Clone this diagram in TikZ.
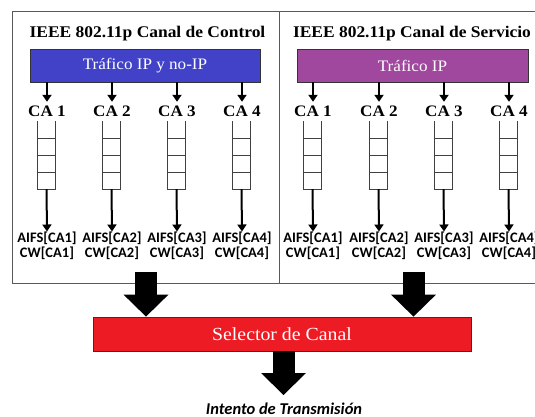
\documentclass[tikz,border=0pt]{standalone}
\usepackage{fontspec}
\setmainfont{Liberation Serif}
\newfontfamily\sansb{Carlito}
\newfontfamily\widerserif[FakeStretch=1.07]{Liberation Serif}
\usetikzlibrary{arrows.meta,calc}
\definecolor{ctrlblue}{RGB}{66,66,200}
\definecolor{servpurple}{RGB}{160,72,158}
\definecolor{selred}{RGB}{237,28,36}
\begin{document}
\begin{tikzpicture}[x=1pt,y=-1pt,
  frame/.style={draw=black!65, line width=0.9pt},
  title/.style={font=\widerserif\fontsize{16.3}{18}\selectfont\bfseries, inner sep=0pt, anchor=base},
  bar/.style={draw=black!80, line width=0.8pt, text=white, inner sep=0pt,
    minimum height=33pt, font=\widerserif\fontsize{16}{18}\selectfont},
  calabel/.style={font=\widerserif\fontsize{16}{18}\selectfont\bfseries, inner sep=0pt,
    text height=14.5pt, text depth=0pt, anchor=base},
  queue/.style={minimum width=18pt, minimum height=68pt, inner sep=0pt},
  feed/.style={-{Triangle[length=7pt,width=9pt]}, line width=2pt},
  param/.style={font=\sansb\bfseries\fontsize{14.5}{15}\selectfont, align=center,
    inner sep=0pt, anchor=north},
  blockarrow/.style={line width=22pt, -{Triangle[length=22pt,width=45pt,line width=0pt]}}
]
\useasboundingbox (0,0) rectangle (535,417);
\begin{scope}
\clip (0,0) rectangle (535,417);
% the two channel frames (the service one runs off the right edge)
\draw[frame] (12,11) rectangle (279,283);
\draw[frame] (279,11) -- (545,11);
\draw[frame] (279,283) -- (545,283);
\end{scope}

% channel titles
\node[title] (tctrl) at (147.5,37.5) {IEEE 802.11p Canal de Control};
\node[title] (tserv) at (412,37.5) {IEEE 802.11p Canal de Servicio};

% traffic bars
\node[bar, fill=ctrlblue, minimum width=230pt] (bctrl) at (145,65.5) {Tráfico IP y no-IP};
\node[bar, fill=servpurple, minimum width=231pt] (bserv) at (412.5,65.5) {Tráfico IP};
\fill[black!60] (512,63) circle (0.7);

% access categories, queues and their parameters
\foreach \side/\bar/\xa/\xb/\xc/\xd in {l/bctrl/47/112/177/242, r/bserv/313/379/444/509}{
  \foreach \i/\x in {1/\xa, 2/\xb, 3/\xc, 4/\xd}{
    \node[calabel] (ca\side\i) at (\x,116.5) {CA \i};
    \draw[feed] (ca\side\i |- \bar.south) -- (ca\side\i.north);
    \node[queue] (q\side\i) at (\x-0.5,155) {};
    \draw[line width=0.7pt, black!75]
      (q\side\i.north west) -- (q\side\i.south west) -- (q\side\i.south east) -- (q\side\i.north east);
    \foreach \f in {0.25,0.5,0.75}
      \draw[line width=0.7pt, black!75] ($(q\side\i.north west)!\f!(q\side\i.south west)$) -- ($(q\side\i.north east)!\f!(q\side\i.south east)$);
    \node[param] (p\side\i) at (\x,231.5) {AIFS[CA\i]\\CW[CA\i]};
    \draw[feed] (q\side\i.south) -- (p\side\i.north);
  }
}

% channel selector and the block arrows into and out of it
\node[bar, fill=selred, minimum width=378pt, minimum height=34pt,
  font=\widerserif\fontsize{18.5}{20}\selectfont] (sel) at (282,334) {Selector de Canal};
\coordinate (outl) at (146,272);
\coordinate (outr) at (413.5,272);
\coordinate (tx) at (283.5,395);
\draw[blockarrow] (outl) -- (outl |- sel.north);
\draw[blockarrow] (outr) -- (outr |- sel.north);
\draw[blockarrow] (sel.south -| tx) -- (tx);
\node[font=\sansb\bfseries\itshape\fontsize{16.5}{18}\selectfont, inner sep=0pt, anchor=base]
  (intento) at (284,414) {Intento de Transmisión};
\end{tikzpicture}
\end{document}
